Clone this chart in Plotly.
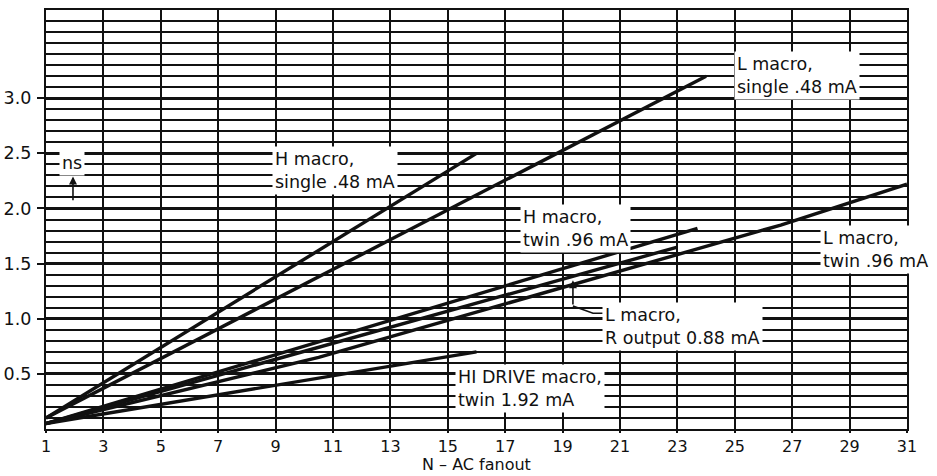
import plotly.graph_objects as go

# ---- data ----
h_single_x = [1, 16]
h_single_y = [0.10, 2.50]
l_single_x = [1, 24]
l_single_y = [0.10, 3.20]
h_twin_x = [1, 23.7]
h_twin_y = [0.05, 1.82]
l_rout_x = [1, 23.0]
l_rout_y = [0.05, 1.65]
l_twin_x = [1, 10.5, 26.6, 31]
l_twin_y = [0.05, 0.65, 1.85, 2.22]
hi_drive_x = [1, 16]
hi_drive_y = [0.05, 0.70]

x_ticks = list(range(1, 32, 2))
y_ticks = [0.5, 1.0, 1.5, 2.0, 2.5, 3.0]
y_tick_text = ["0.5", "1.0", "1.5", "2.0", "2.5", "3.0"]
x_title = "N – AC fanout"

series = [
    (h_single_x, h_single_y),
    (l_single_x, l_single_y),
    (h_twin_x, h_twin_y),
    (l_rout_x, l_rout_y),
    (l_twin_x, l_twin_y),
    (hi_drive_x, hi_drive_y),
]

labels = [
    ("H macro,<br>single .48 mA", 8.87, 2.34),
    ("L macro,<br>single .48 mA", 24.97, 3.205),
    ("H macro,<br>twin .96 mA", 17.52, 1.82),
    ("L macro,<br>twin .96 mA", 27.97, 1.63),
    ("L macro,<br>R output 0.88 mA", 20.37, 0.934),
    ("HI DRIVE macro,<br>twin 1.92 mA", 15.25, 0.367),
    ("ns", 1.45, 2.41),
]

FONT = "DejaVu Sans"
INK = "#111111"
LABEL_SIZE = 17.5

fig = go.Figure()
for xs, ys in series:
    fig.add_trace(go.Scatter(x=xs, y=ys, mode="lines",
                             line=dict(color=INK, width=3.4),
                             showlegend=False, hoverinfo="skip"))

for text, x, y in labels:
    fig.add_annotation(x=x, y=y, xref="x", yref="y", text=text,
                       showarrow=False, xanchor="left", yanchor="middle",
                       align="left", bgcolor="white", borderpad=2,
                       font=dict(family=FONT, size=LABEL_SIZE, color=INK))

# x-axis title placed under the tick labels
fig.add_annotation(x=0.5, y=-0.110, xref="paper", yref="paper", text=x_title,
                   showarrow=False, xanchor="center", yanchor="bottom",
                   borderpad=0,
                   font=dict(family=FONT, size=16, color=INK))

# small "ns" up-arrow
fig.add_annotation(x=1.94, y=2.29, ax=1.94, ay=2.06, xref="x", yref="y",
                   axref="x", ayref="y", text="", showarrow=True,
                   arrowhead=2, arrowsize=1, arrowwidth=1.6, arrowcolor=INK)
# pointer for "L macro, R output" label
fig.add_annotation(x=19.36, y=1.35, ax=19.36, ay=1.115, xref="x", yref="y",
                   axref="x", ayref="y", text="", showarrow=True,
                   arrowhead=2, arrowsize=1, arrowwidth=1.6, arrowcolor=INK)
fig.add_shape(type="path", xref="x", yref="y",
              path="M 19.36,1.115 L 20.06,1.05 L 20.40,1.05",
              line=dict(color=INK, width=1.6))

fig.update_layout(
    width=937, height=476,
    margin=dict(l=46, r=30, t=10, b=47),
    paper_bgcolor="white", plot_bgcolor="white",
    font=dict(family=FONT, size=16, color=INK),
    xaxis=dict(range=[1, 31], tickmode="array", tickvals=x_ticks,
               automargin=False,
               ticks="outside", ticklen=2, tickwidth=1.6, tickcolor=INK,
               showgrid=True, gridcolor=INK, gridwidth=1.7,
               showline=True, linecolor=INK, linewidth=2.2, mirror=True,
               zeroline=False,
               tickfont=dict(family=FONT, size=16, color=INK)),
    yaxis=dict(range=[0, 3.8], tickmode="array", tickvals=y_ticks,
               ticktext=y_tick_text, automargin=False,
               ticks="outside", ticklen=7, tickwidth=1.6, tickcolor=INK,
               ticklabelstandoff=2,
               showgrid=True, gridcolor=INK, gridwidth=2.5,
               minor=dict(tickmode="linear", tick0=0, dtick=0.1,
                          showgrid=True, gridcolor=INK, gridwidth=1.5,
                          ticks=""),
               showline=True, linecolor=INK, linewidth=2.2, mirror=True,
               zeroline=False,
               tickfont=dict(family=FONT, size=17.5, color=INK)),
)

fig.write_html("out.html")
